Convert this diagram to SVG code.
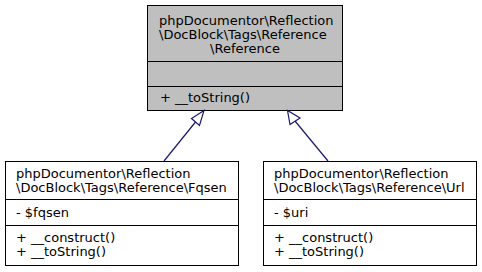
<svg xmlns="http://www.w3.org/2000/svg" width="482" height="272" viewBox="0 0 482 272">
  <style>
    .box { stroke: #000; stroke-width: 1; }
    .base { fill: #bfbfbf; }
    .derived { fill: #fff; }
    .sep { stroke: #000; stroke-width: 1; fill: none; }
    text { font-family: "DejaVu Sans", "Liberation Sans", sans-serif; font-size: 13px; fill: #000; }
    .edge { stroke: #191970; stroke-width: 1.2; fill: none; }
    .head { stroke: #191970; stroke-width: 1.2; fill: #fff; }
  </style>

  <!-- Base class -->
  <g id="node-reference">
    <rect class="box base" x="147.5" y="5.5" width="195" height="105"/>
    <path class="sep" d="M147.5 61.5H342.5M147.5 86.5H342.5"/>
    <text x="159" y="25">phpDocumentor\Reflection</text>
    <text x="159" y="39">\DocBlock\Tags\Reference</text>
    <text x="245" y="53" text-anchor="middle">\Reference</text>
    <text x="160" y="102">+ __toString()</text>
  </g>

  <!-- Derived: Fqsen -->
  <g id="node-fqsen">
    <rect class="box derived" x="5.5" y="161.5" width="233" height="104"/>
    <path class="sep" d="M5.5 199.5H238.5M5.5 225.5H238.5"/>
    <text x="16" y="178">phpDocumentor\Reflection</text>
    <text x="16" y="192">\DocBlock\Tags\Reference\Fqsen</text>
    <text x="16" y="217">- $fqsen</text>
    <text x="16" y="242">+ __construct()</text>
    <text x="16" y="256">+ __toString()</text>
  </g>

  <!-- Derived: Url -->
  <g id="node-url">
    <rect class="box derived" x="263.5" y="161.5" width="213" height="104"/>
    <path class="sep" d="M263.5 199.5H476.5M263.5 225.5H476.5"/>
    <text x="274" y="178">phpDocumentor\Reflection</text>
    <text x="274" y="192">\DocBlock\Tags\Reference\Url</text>
    <text x="274" y="217">- $uri</text>
    <text x="274" y="242">+ __construct()</text>
    <text x="274" y="256">+ __toString()</text>
  </g>

  <!-- Inheritance edges -->
  <g id="edges">
    <path class="edge" d="M164 161L195.5 122"/>
    <polygon class="head" points="204,110.5 191.5,118.5 199.5,125.5"/>
    <path class="edge" d="M328 161L295 121"/>
    <polygon class="head" points="287.5,110.5 290,124.5 300,118"/>
  </g>
</svg>
